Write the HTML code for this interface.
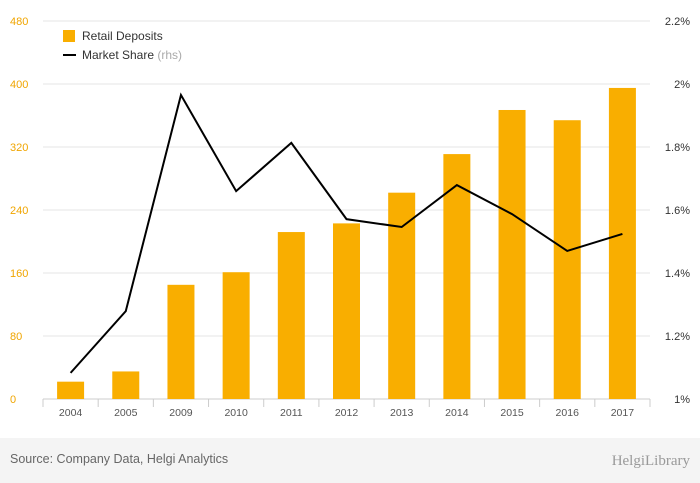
<!DOCTYPE html>
<html><head><meta charset="utf-8"><style>
body{margin:0;background:#fff;font-family:"Liberation Sans",sans-serif}
#wrap{position:relative;width:700px;height:483px;overflow:hidden}
#footer{position:absolute;left:0;top:438px;width:700px;height:45px;background:#f4f4f4}
</style></head><body>
<div id="wrap">
<div id="footer"></div>
<svg id="chart" width="700" height="483" style="position:absolute;left:0;top:0"></svg>
</div>
<script>
const categories=["2004","2005","2009","2010","2011","2012","2013","2014","2015","2016","2017"];
const deposits=[22,35,145,161,212,223,262,311,367,354,395];
const share=[1.083,1.279,1.965,1.66,1.813,1.571,1.546,1.679,1.587,1.47,1.524];
const leftTicks=[0,80,160,240,320,400,480];
const rightTicks=[1,1.2,1.4,1.6,1.8,2,2.2];
const rightLabels=["1%","1.2%","1.4%","1.6%","1.8%","2%","2.2%"];
const svg=document.getElementById('chart');const NS='http://www.w3.org/2000/svg';
const x0=43,x1=650,yB=399,yT=21;
const bw=(x1-x0)/categories.length;
const xc=i=>x0+bw*(i+0.5);
const yL=v=>yB-(v/480)*(yB-yT);
const yR=v=>yB-((v-1)/1.2)*(yB-yT);
function mk(t,a,txt){const e=document.createElementNS(NS,t);for(const k in a)e.setAttribute(k,a[k]);if(txt!==undefined)e.textContent=txt;svg.appendChild(e);return e;}
leftTicks.forEach((v,i)=>{
 const g=mk('line',{x1:x0,x2:x1,y1:yL(v),y2:yL(v),stroke:'#e6e6e6','stroke-width':1});
 
 
 const t=mk('text',{x:10,y:yL(v)+4,fill:'#f0a500','font-size':11},String(v));
 
 
});
rightTicks.forEach((v,i)=>{
 const t=mk('text',{x:690,y:yR(v)+4,fill:'#333','font-size':11,'text-anchor':'end'},rightLabels[i]);
 
 
});
const ax=mk('line',{x1:x0,x2:x1,y1:yB,y2:yB,stroke:'#ccc'});


categories.forEach((c,i)=>{
 const tk=mk('line',{x1:x0+bw*i,x2:x0+bw*i,y1:yB,y2:yB+8,stroke:'#ccc'});
 
 
 const b=mk('rect',{x:xc(i)-13.5,y:yL(deposits[i]),width:27,height:yB-yL(deposits[i]),fill:'#f9ae00'});
 
 
 const t=mk('text',{x:xc(i),y:416,fill:'#555','font-size':10.5,'text-anchor':'middle'},c);
 
 
});
const tk2=mk('line',{x1:x1,x2:x1,y1:yB,y2:yB+8,stroke:'#ccc'});


const pl=mk('polyline',{points:share.map((v,i)=>xc(i)+','+yR(v)).join(' '),fill:'none',stroke:'#000','stroke-width':2});


const l1=mk('rect',{x:63,y:30,width:12,height:12,fill:'#f9ae00'});


const l1t=mk('text',{x:82,y:40,fill:'#333','font-size':12},'Retail Deposits');


const l2=mk('line',{x1:63,x2:76,y1:55,y2:55,stroke:'#000','stroke-width':2});


const l2t=mk('text',{x:82,y:59,fill:'#333','font-size':12},'Market Share ');


const ts=document.createElementNS(NS,'tspan');ts.setAttribute('fill','#aaa');ts.textContent='(rhs)';l2t.appendChild(ts);
const src=mk('text',{x:10,y:463,fill:'#666','font-size':12.5},'Source: Company Data, Helgi Analytics');


const logo=mk('text',{x:690,y:465,fill:'#999','font-size':15,'text-anchor':'end','font-family':'Liberation Serif, serif'},'HelgiLibrary');


</script>
</body></html>
